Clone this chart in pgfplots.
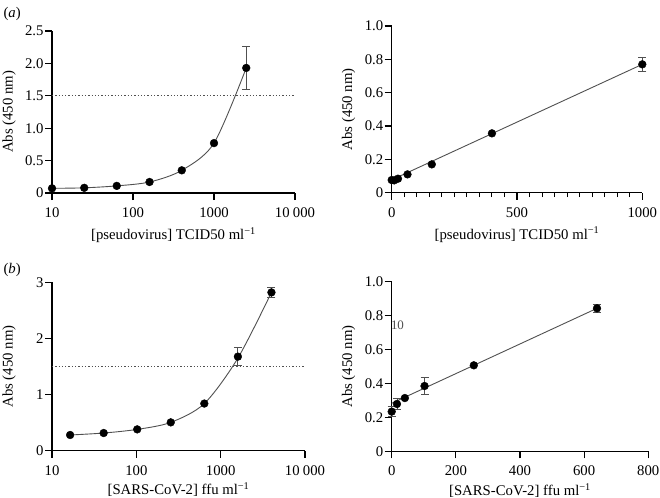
\documentclass[border=0pt]{standalone}
\usepackage{pgfplots}
\pgfplotsset{compat=1.18}
\usepackage{fontspec}
\setmainfont{Liberation Serif}

\definecolor{fitgray}{RGB}{80,80,80}
\newcommand{\lbl}{\fontsize{14.8}{17}\selectfont}

\pgfplotsset{
  panel/.style={
    scale only axis, anchor=south west, clip=false,
    axis x line*=bottom, axis y line*=left, enlargelimits=false,
    axis line style={line width=1.1bp, black, -},
    xtick style={line width=1.1bp, black},
    ytick style={line width=1.1bp, black},
    tick align=outside, major tick length=7bp, minor tick length=4.5bp,
    /pgf/number format/assume math mode=true,
    tick label style={font=\lbl},
    xticklabel style={yshift=-4bp},
    yticklabel style={xshift=2bp},
    every axis y label/.style={at={([xshift=-43bp]axis description cs:0,0.5)}, rotate=90, anchor=center, font=\lbl},
    every axis x label/.style={at={([yshift=-42bp]axis description cs:0.5,0)}, anchor=center, font=\lbl},
    ylabel={Abs (450 nm)},
  },
  pts/.style={only marks, mark=*, mark size=3.9bp, black,
    error bars/.cd, y dir=both, y explicit,
    error bar style={line width=0.9bp, fitgray},
    error mark options={rotate=90, mark size=4bp, line width=0.9bp, fitgray}},
  fit/.style={no marks, fitgray, line width=0.9bp},
  cut/.style={no marks, dotted, line width=1.3bp, fitgray},
}

\begin{document}
\begin{tikzpicture}
\useasboundingbox (0bp,0bp) rectangle (660bp,-498bp);
\node[anchor=west, font=\lbl] at (0bp,-14bp) {(\textit{a})};
\node[anchor=west, font=\lbl] at (0bp,-270bp) {(\textit{b})};

% (a) left: log scale
\begin{axis}[panel, at={(52bp,-193bp)}, width=243bp, height=162bp,
  xmode=log, xmin=10, xmax=10000, xminorticks=false,
  xtick={10,100,1000,10000}, xticklabels={10,100,1000,10\hspace{0.22em}000},
  ymin=0, ymax=2.5, ytick={0,0.5,1,1.5,2,2.5},
  yticklabels={0,0.5,1.0,1.5,2.0,2.5},
  xlabel={[pseudovirus] TCID50 ml\textsuperscript{−1}}]
  \addplot[cut] coordinates {(10,1.5) (10000,1.5)};
  \addplot[fit, smooth] coordinates {(10,0.072) (25,0.08) (63,0.11) (160,0.17) (400,0.35) (1000,0.77) (2500,1.93)};
  \addplot[pts] coordinates {(10,0.072) (25,0.08) (63,0.11) (160,0.17) (400,0.35) (1000,0.77) (2500,1.93) +- (0,0.33)};
\end{axis}

% (a) right: linear scale
\begin{axis}[panel, at={(391.7bp,-192.7bp)}, width=250.6bp, height=166.7bp,
  xmin=0, xmax=1000, xtick={0,500,1000}, xticklabels={0,500,1000},
  minor x tick num=9,
  ymin=0, ymax=1, ytick={0,0.2,0.4,0.6,0.8,1},
  yticklabels={0,0.2,0.4,0.6,0.8,1.0},
  xlabel={[pseudovirus] TCID50 ml\textsuperscript{−1}}]
  \addplot[fit] coordinates {(0,0.077) (1000,0.77)};
  \addplot[pts] coordinates {(0,0.076) (10,0.074) (25,0.084) (63,0.11) (160,0.17) (400,0.356) (1000,0.77) +- (0,0.04)};
\end{axis}

% (b) left: log scale
\begin{axis}[panel, at={(52bp,-450.7bp)}, width=253bp, height=168.4bp,
  xmode=log, xmin=10, xmax=10000, xminorticks=false,
  xtick={10,100,1000,10000}, xticklabels={10,100,1000,10\hspace{0.22em}000},
  ymin=0, ymax=3, ytick={0,1,2,3},
  every axis x label/.style={at={([yshift=-39bp]axis description cs:0.5,0)}, anchor=center, font=\lbl},
  xlabel={[SARS-CoV-2] ffu ml\textsuperscript{−1}}]
  \addplot[cut] coordinates {(10,1.5) (10000,1.5)};
  \addplot[fit, smooth] coordinates {(16.4,0.28) (41,0.315) (102.4,0.38) (256,0.505) (640,0.84) (1600,1.65) (4000,2.82)};
  \addplot[pts] coordinates {(16.4,0.28) (41,0.315) (102.4,0.38) (256,0.505) (640,0.84) (1600,1.676) +- (0,0.16) (4000,2.82) +- (0,0.09)};
\end{axis}

% (b) right: linear scale
\begin{axis}[panel, at={(391.7bp,-451.3bp)}, width=256.6bp, height=169.6bp,
  xmin=0, xmax=800, xtick={0,200,400,600,800},
  xticklabels={0,200,400,600,800},
  ymin=0, ymax=1, ytick={0,0.2,0.4,0.6,0.8,1},
  yticklabels={0,0.2,0.4,0.6,0.8,1.0},
  every axis x label/.style={at={([yshift=-39bp]axis description cs:0.5,0)}, anchor=center, font=\lbl},
  xlabel={[SARS-CoV-2] ffu ml\textsuperscript{−1}}]
  \addplot[fit] coordinates {(0,0.283) (640,0.843)};
  \addplot[pts] coordinates {(0,0.234) +- (0,0.03) (16.4,0.279) +- (0,0.032) (41,0.314) (102.4,0.385) +- (0,0.049) (256,0.507) (640,0.843) +- (0,0.025)};
  \node[font=\fontsize{13}{15}\selectfont, fitgray] at (axis cs:18,0.745) {10};
\end{axis}
\end{tikzpicture}
\end{document}
